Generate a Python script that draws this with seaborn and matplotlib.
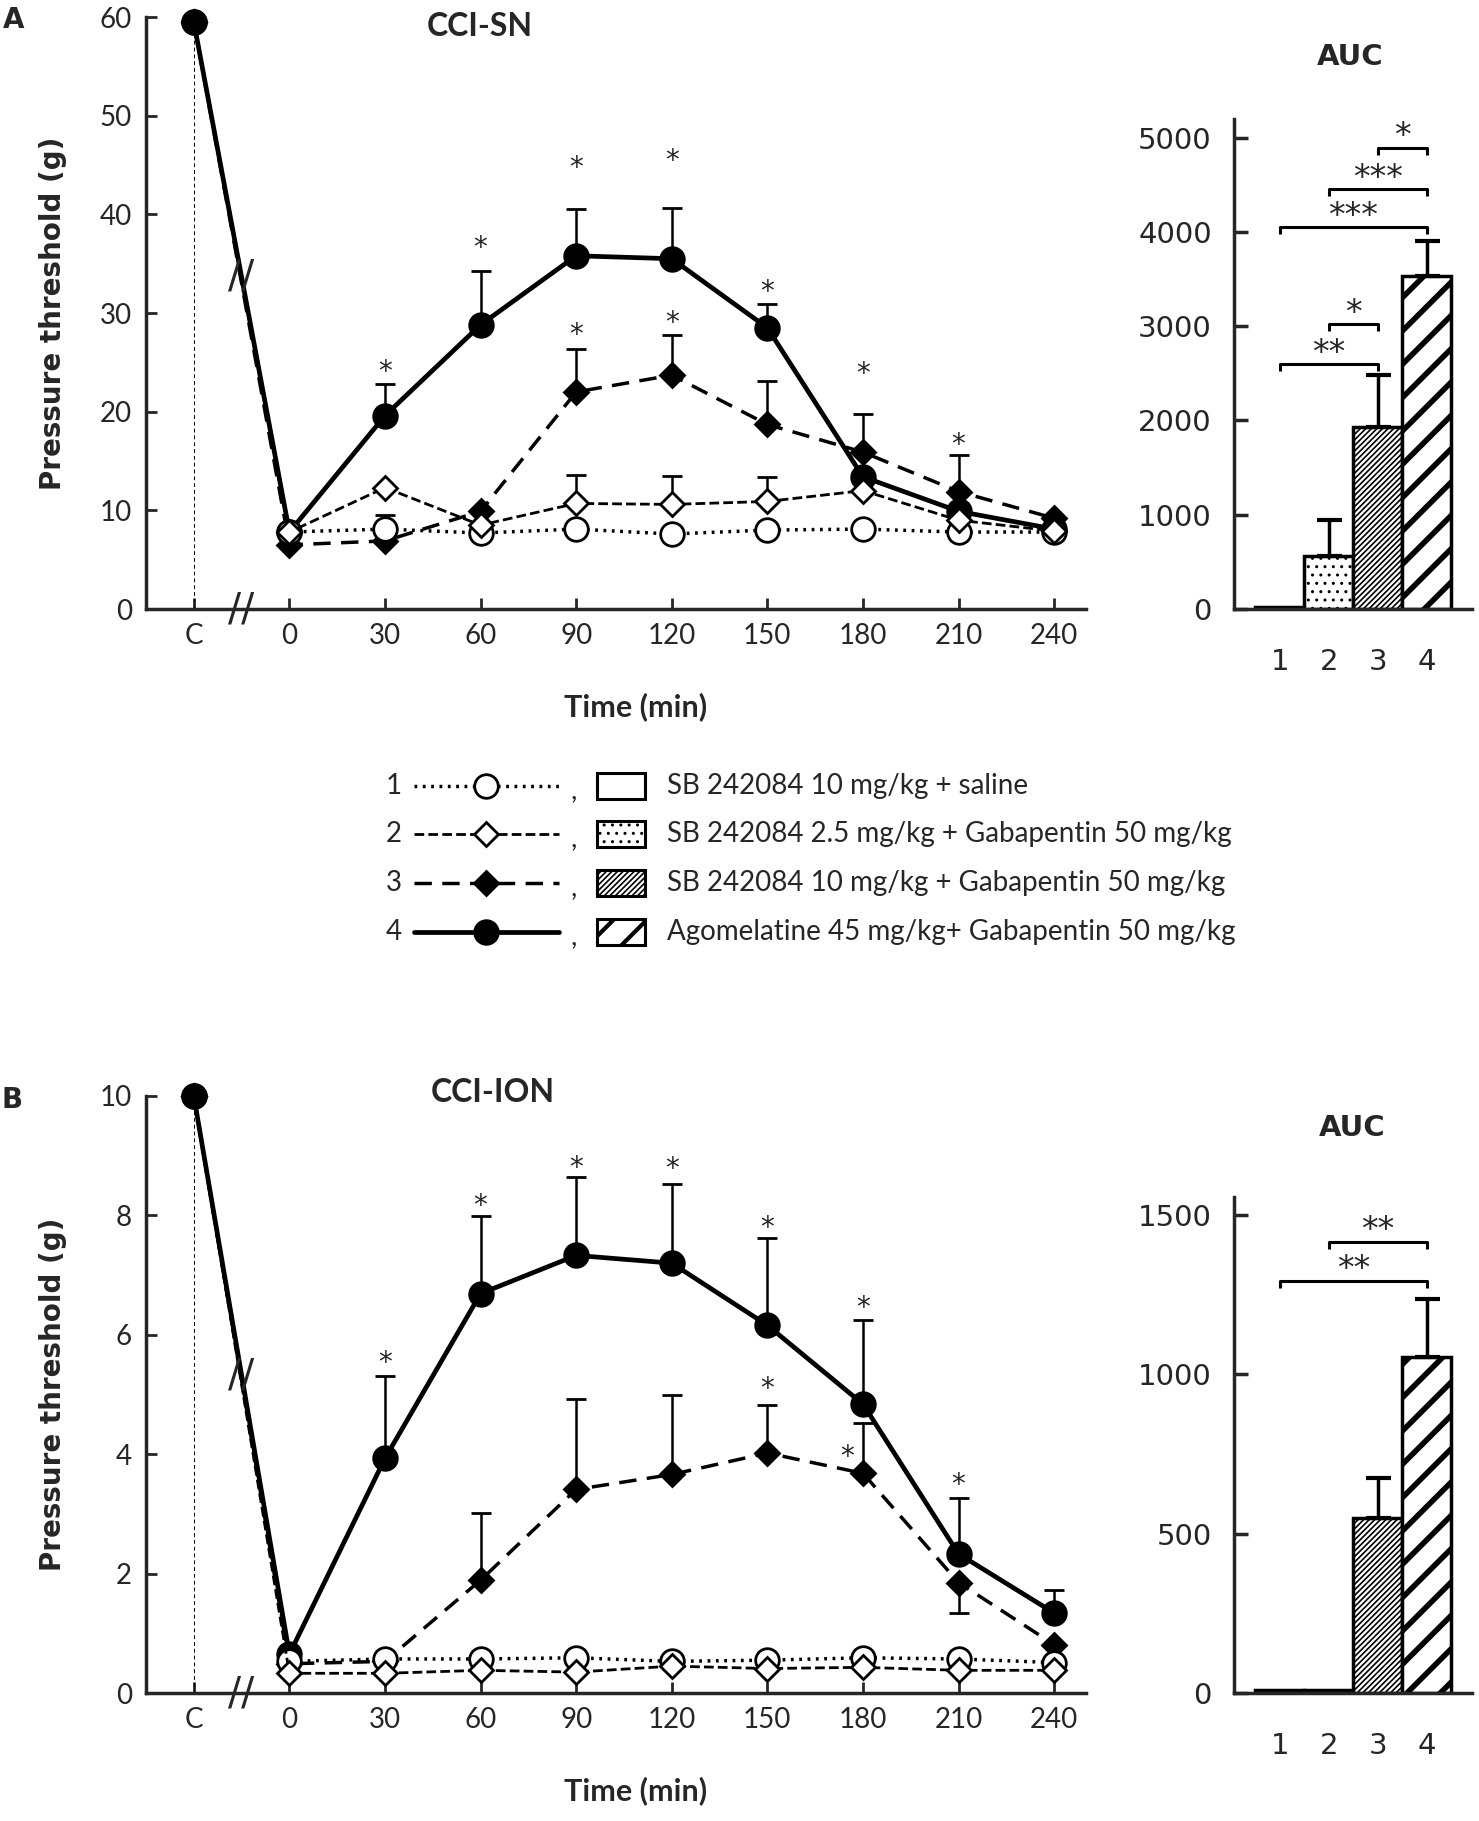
import numpy as np
import pandas as pd
import seaborn as sns
import matplotlib.pyplot as plt
from matplotlib.patches import Rectangle

# ==========================================
# Data
# ==========================================
time_min = [0, 30, 60, 90, 120, 150, 180, 210, 240]
groups = [1, 2, 3, 4]
group_names = [
    "SB 242084 10 mg/kg + saline",
    "SB 242084 2.5 mg/kg + Gabapentin 50 mg/kg",
    "SB 242084 10 mg/kg + Gabapentin 50 mg/kg",
    "Agomelatine 45 mg/kg+ Gabapentin 50 mg/kg",
]

# panel A : CCI-SN, pressure threshold (g)
sn_ctrl = [59.5, 59.5, 59.5, 59.5]
sn_g1 = [7.8, 8.1, 7.7, 8.1, 7.6, 8.0, 8.1, 7.8, 7.8]
sn_g2 = [7.8, 12.3, 8.5, 10.7, 10.6, 10.9, 12.0, 9.0, 7.9]
sn_g3 = [6.5, 6.9, 9.9, 22.0, 23.7, 18.7, 15.9, 11.9, 9.2]
sn_g4 = [7.8, 19.6, 28.8, 35.8, 35.5, 28.5, 13.4, 9.9, 8.1]
sn_err_g1 = [0, 1.4, 0, 0, 0, 0, 0, 0, 0]
sn_err_g2 = [0, 0, 0, 2.9, 2.9, 2.5, 0, 0, 0]
sn_err_g3 = [0, 0, 0, 4.4, 4.1, 4.4, 3.9, 3.7, 0]
sn_err_g4 = [0, 3.2, 5.5, 4.7, 5.1, 2.4, 0, 0, 0]
sn_star_t = [30, 60, 90, 120, 150, 180, 210, 90, 120]
sn_star_y = [24.9, 37.4, 45.5, 46.2, 33.0, 24.7, 17.5, 28.6, 29.8]

# panel B : CCI-ION
ion_ctrl = [10.0, 10.0, 10.0, 10.0]
ion_g1 = [0.53, 0.57, 0.57, 0.59, 0.53, 0.55, 0.59, 0.57, 0.51]
ion_g2 = [0.33, 0.33, 0.38, 0.35, 0.45, 0.41, 0.43, 0.38, 0.38]
ion_g3 = [0.49, 0.53, 1.89, 3.41, 3.66, 4.02, 3.68, 1.85, 0.81]
ion_g4 = [0.65, 3.93, 6.69, 7.33, 7.20, 6.16, 4.84, 2.33, 1.34]
ion_err_g3 = [0, 0, 1.12, 1.51, 1.34, 0.80, 0.85, 0, 0]
ion_err_g3_down = [0, 0, 0, 0, 0, 0, 0, 0.51, 0]
ion_err_g4 = [0, 1.38, 1.30, 1.31, 1.32, 1.46, 1.40, 0.94, 0.39]
ion_star_t = [30, 60, 90, 120, 150, 180, 210, 150, 175]
ion_star_y = [5.67, 8.29, 8.94, 8.92, 7.93, 6.59, 3.63, 5.24, 4.10]

# AUC bars
auc_labels = ["1", "2", "3", "4"]
auc_sn = [25, 565, 1932, 3536]
auc_sn_err = [0, 377, 546, 363]
auc_ion = [8, 8, 548, 1055]
auc_ion_err = [0, 0, 127, 181]
# significance brackets: (bar i, bar j, bracket height, label)
auc_sn_sig = [(0, 2, 2599, "**"), (1, 2, 3019, "*"), (0, 3, 4048, "***"),
              (1, 3, 4454, "***"), (2, 3, 4894, "*")]
auc_ion_sig = [(0, 3, 1294, "**"), (1, 3, 1416, "**")]

# ==========================================
# Style
# ==========================================
sns.set_style("ticks")
plt.rcParams['font.family'] = ['DejaVu Sans']
plt.rcParams['hatch.linewidth'] = 1.2
NARROW = ['Lato', 'DejaVu Sans']
C_POS = -30  # where the control point "C" sits on the time axis

line_style = {
    1: dict(marker='o', mfc='white', ms=17, ls=(0, (0.8, 1.6)), lw=2.5, z=4),
    2: dict(marker='D', mfc='white', ms=12.5, ls=(0, (3.5, 1.5)), lw=2.0, z=5),
    3: dict(marker='D', mfc='black', ms=12.5, ls=(0, (5, 3)), lw=2.5, z=3),
    4: dict(marker='o', mfc='black', ms=17, ls='-', lw=3.4, z=2),
}
bar_hatch = ['', '..', '//////', '/']
bar_hatch_lw = [1.0, 1.0, 1.2, 4.0]

W, H = 1479, 1821
fig = plt.figure(figsize=(W / 100, H / 100), dpi=100)


def box(x0, y0, x1, y1):
    # pixel box (top-left origin) -> figure fraction rect
    return [x0 / W, 1 - y1 / H, (x1 - x0) / W, (y1 - y0) / H]


def set_hlw(patch, lw):
    if hasattr(patch, "set_hatch_linewidth"):
        patch.set_hatch_linewidth(lw)


def time_panel(ax, ctrl, series, err_up, err_dn, star_t, star_y, ymax, yticks):
    rows = []
    for g, vals in zip(groups, series):
        rows.append({"group": g, "pos": C_POS, "thr": ctrl[g - 1]})
        for t, v in zip(time_min, vals):
            rows.append({"group": g, "pos": t, "thr": v})
    df = pd.DataFrame(rows)

    ax.vlines(C_POS, 0, ymax, colors='black', linestyles=(0, (4, 3)), linewidth=0.7, zorder=1)

    for g in groups:
        st = line_style[g]
        sub = df[df["group"] == g]
        # line through all points, markers only on the timed points
        sns.lineplot(data=sub, x="pos", y="thr", ax=ax, color='black', errorbar=None,
                     linestyle=st['ls'], linewidth=st['lw'], marker=st['marker'],
                     markevery=list(range(1, len(sub))),
                     markersize=st['ms'], markerfacecolor=st['mfc'],
                     markeredgecolor='black', markeredgewidth=2,
                     zorder=st['z'], clip_on=False)
        up = np.array(err_up[g - 1], dtype=float)
        dn = np.array(err_dn[g - 1], dtype=float)
        mask = (up > 0) | (dn > 0)
        if mask.any():
            ax.errorbar(np.array(time_min)[mask], np.array(series[g - 1])[mask],
                        yerr=[dn[mask], up[mask]], fmt='none', ecolor='black',
                        elinewidth=1.8, capsize=7, capthick=2, zorder=st['z'] - 0.5)

    # control markers, filled ones drawn last
    for g in groups:
        st = line_style[g]
        ax.plot([C_POS], [ctrl[g - 1]], marker=st['marker'], ms=st['ms'],
                mfc=st['mfc'], mec='black', mew=2, linestyle='none',
                zorder=6 + g, clip_on=False)

    for t, y in zip(star_t, star_y):
        ax.annotate("*", (t, y), xytext=(0, -6), textcoords='offset points',
                    ha='center', va='center', fontsize=20)

    # axis break marks
    g4 = series[3]
    y_break = ctrl[3] + (g4[0] - ctrl[3]) * 0.5
    for yb in [0, y_break]:
        ax.text(-15, yb, "//", ha='center', va='center', fontsize=28,
                clip_on=False, zorder=6)

    ax.set_xlim(-45, 250)
    ax.set_ylim(0, ymax)
    ax.set_xticks([C_POS] + time_min)
    ax.set_xticklabels(["C"] + [str(t) for t in time_min])
    ax.set_yticks(yticks)
    ax.tick_params(direction='in', length=8, width=2, labelsize=20, pad=10)
    for lab in ax.get_xticklabels() + ax.get_yticklabels():
        lab.set_family(NARROW)
    sns.despine(ax=ax)
    for s in ["left", "bottom"]:
        ax.spines[s].set_linewidth(2.5)
    ax.set_xlabel("Time (min)", fontsize=22, fontweight='bold', family=NARROW)
    ax.set_ylabel("Pressure threshold (g)", fontsize=20, fontweight='bold')
    ax.yaxis.set_label_coords(-0.084, 0.5)
    ax.xaxis.set_label_coords(0.521, -0.14)


def auc_panel(ax, vals, errs, sig, ymax, yticks, drop):
    sns.barplot(x=auc_labels, y=vals, ax=ax, width=1.0, color='white', saturation=1,
                edgecolor='black', linewidth=2.5, errorbar=None)
    for p, h, hl in zip(ax.patches, bar_hatch, bar_hatch_lw):
        p.set_hatch(h)
        set_hlw(p, hl)
    e = np.array(errs, dtype=float)
    m = e > 0
    ax.errorbar(np.arange(4)[m], np.array(vals)[m], yerr=[np.zeros(m.sum()), e[m]],
                fmt='none', ecolor='black', elinewidth=2.5, capsize=9, capthick=3, zorder=4)
    for i, j, y, lab in sig:
        ax.plot([i, i, j, j], [y - drop, y, y, y - drop], color='black', lw=2.2,
                solid_capstyle='butt', clip_on=False)
        ax.annotate(lab, ((i + j) / 2, y), xytext=(0, -4), textcoords='offset points',
                    ha='center', va='bottom', fontsize=24, annotation_clip=False)
    ax.set_xlim(-0.93, 3.92)
    ax.set_ylim(0, ymax)
    ax.set_yticks(yticks)
    ax.set_xlabel("")
    ax.tick_params(axis='y', direction='in', length=10, width=2.5, labelsize=21, pad=16)
    ax.tick_params(axis='x', length=0, labelsize=21, pad=28)
    sns.despine(ax=ax)
    for s in ["left", "bottom"]:
        ax.spines[s].set_linewidth(2.5)


# ==========================================
# Panel A
# ==========================================
axA = fig.add_axes(box(146, 17, 1086, 609))
time_panel(axA, sn_ctrl, [sn_g1, sn_g2, sn_g3, sn_g4],
           [sn_err_g1, sn_err_g2, sn_err_g3, sn_err_g4], [[0] * 9] * 4,
           sn_star_t, sn_star_y, 60, range(0, 61, 10))

axA2 = fig.add_axes(box(1234, 119, 1472, 609))
auc_panel(axA2, auc_sn, auc_sn_err, auc_sn_sig, 5197, range(0, 5001, 1000), 75)

# ==========================================
# Panel B
# ==========================================
axB = fig.add_axes(box(146, 1096, 1086, 1693))
time_panel(axB, ion_ctrl, [ion_g1, ion_g2, ion_g3, ion_g4],
           [[0] * 9, [0] * 9, ion_err_g3, ion_err_g4],
           [[0] * 9, [0] * 9, ion_err_g3_down, [0] * 9],
           ion_star_t, ion_star_y, 10, range(0, 11, 2))

axB2 = fig.add_axes(box(1234, 1197, 1472, 1693))
auc_panel(axB2, auc_ion, auc_ion_err, auc_ion_sig, 1556, range(0, 1501, 500), 22)

# ==========================================
# Free text and legend (pixel coordinates)
# ==========================================
ov = fig.add_axes([0, 0, 1, 1], zorder=10)
ov.set_xlim(0, W)
ov.set_ylim(H, 0)
ov.axis('off')

ov.text(14, 20, "A", fontsize=20, fontweight='bold', ha='center', va='center')
ov.text(12, 1100, "B", fontsize=20, fontweight='bold', ha='center', va='center')
ov.text(480, 27, "CCI-SN", fontsize=23, fontweight='bold', family=NARROW, ha='center', va='center')
ov.text(493, 1093, "CCI-ION", fontsize=23, fontweight='bold', family=NARROW, ha='center', va='center')
ov.text(1350, 57, "AUC", fontsize=21, fontweight='bold', ha='center', va='center')
ov.text(1352, 1128, "AUC", fontsize=21, fontweight='bold', ha='center', va='center')

legend_y = [786, 834, 883, 932]
for g, name, hatch, hlw, y in zip(groups, group_names, bar_hatch, bar_hatch_lw, legend_y):
    st = line_style[g]
    ov.text(394, y, str(g), fontsize=20, family=NARROW, ha='center', va='center')
    ov.plot([414, 559], [y, y], color='black', linestyle=st['ls'], linewidth=st['lw'])
    ov.plot([486], [y], marker=st['marker'], ms=st['ms'], mfc=st['mfc'],
            mec='black', mew=2, linestyle='none')
    ov.text(574, y + 4, ",", fontsize=20, family=NARROW, ha='center', va='center')
    r = Rectangle((597, y - 13), 48, 26, facecolor='white', edgecolor='black',
                  linewidth=2.2, hatch=hatch)
    set_hlw(r, min(hlw, 3.0))
    ov.add_patch(r)
    ov.text(667, y, name, fontsize=20, family=NARROW, ha='left', va='center')

plt.savefig("out.png", dpi=100)
